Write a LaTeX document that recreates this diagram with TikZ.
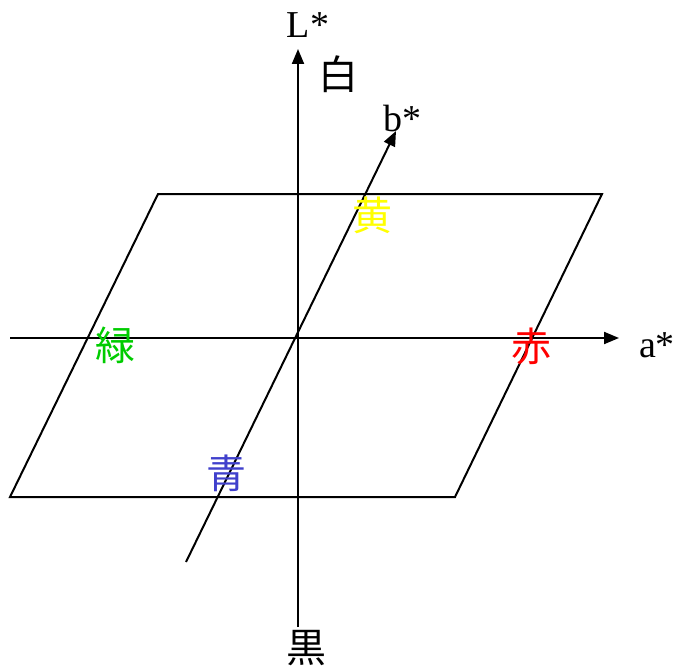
\documentclass[tikz,border=0pt]{standalone}
\usepackage{fontspec}
\setmainfont{Liberation Serif}
\newfontfamily\cjk{Noto Sans CJK JP}
\usetikzlibrary{arrows.meta}
\definecolor{kgreen}{RGB}{0,204,0}
\definecolor{kblue}{RGB}{64,64,204}
\definecolor{kred}{RGB}{255,0,0}
\definecolor{kyellow}{RGB}{255,255,0}
\begin{document}
\begin{tikzpicture}[x=1pt,y=-1pt,
  edge/.style={line width=2pt,black},
  axis/.style={line width=2pt,black,-{Triangle[length=15pt,width=12pt]}},
  lab/.style={font=\fontsize{38}{38}\selectfont,inner sep=0pt},
  cj/.style={font=\cjk\fontsize{40}{40}\selectfont,inner sep=0pt}]
\useasboundingbox (0,0) rectangle (679,671);
% parallelogram
\coordinate (p1) at (158,194);
\coordinate (p2) at (602,194);
\coordinate (p3) at (455,497);
\coordinate (p4) at (10,497);
\draw[edge,line join=miter] (p1) -- (p2) -- (p3) -- (p4) -- cycle;
% axes
\coordinate (a0) at (10,338);
\coordinate (a1) at (619,338);
\coordinate (l0) at (298,627);
\coordinate (l1) at (298,49);
\coordinate (b0) at (186,562);
\coordinate (b1) at (396,131);
\draw[axis] (a0) -- (a1);
\draw[axis] (l0) -- (l1);
\draw[axis] (b0) -- (b1);
% labels
\node[lab] (lL) at (308,25) {L*};
\node[lab] (lb) at (402,119) {b*};
\node[lab] (la) at (657,345) {a*};
\node[cj] (white) at (338,74) {白};
\node[cj] (black) at (306,648) {黒};
\node[cj,text=kyellow] (yellow) at (372,215) {黄};
\node[cj,text=kgreen] (green) at (115,345) {緑};
\node[cj,text=kred] (red) at (531,346) {赤};
\node[cj,text=kblue] (blue) at (226,473) {青};
\end{tikzpicture}
\end{document}
